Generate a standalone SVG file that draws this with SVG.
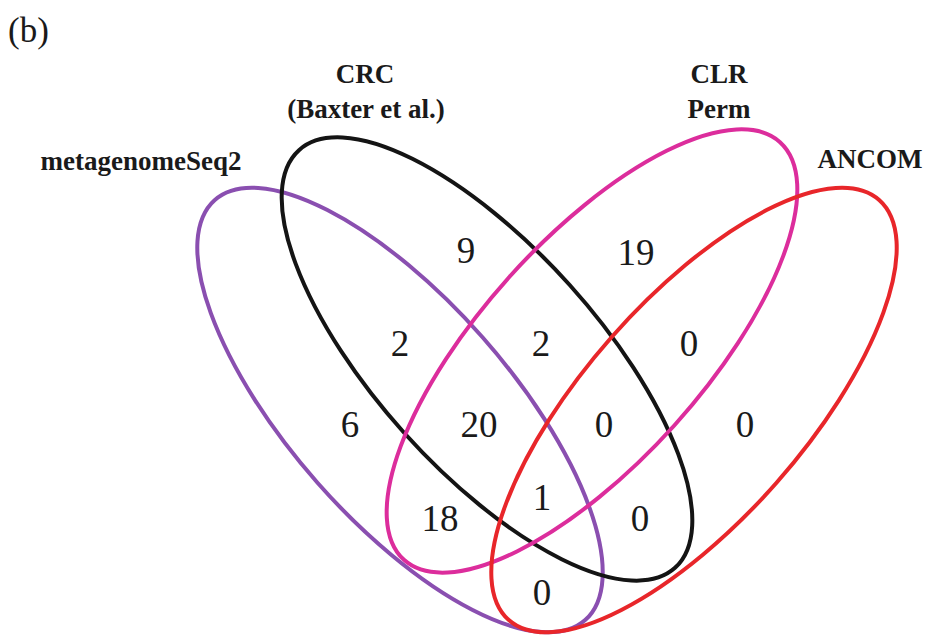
<svg xmlns="http://www.w3.org/2000/svg" width="928" height="636" viewBox="0 0 928 636">
<style>
.set{fill:none;stroke-width:4}
.lbl{font-family:'Liberation Serif','Times New Roman','DejaVu Serif',serif;font-weight:bold;font-size:27px;fill:#1a1a1a;text-anchor:middle}
.num{font-family:'Liberation Serif','Times New Roman','DejaVu Serif',serif;font-size:37px;fill:#1a1a1a;text-anchor:middle}
.tag{font-family:'Liberation Serif','Times New Roman','DejaVu Serif',serif;font-size:35px;fill:#1a1a1a}
</style>
<rect width="928" height="636" fill="#ffffff"/>
<text class="tag" x="8" y="42">(b)</text>
<g id="connectors"></g>
<g id="set-metagenomeSeq2">
<ellipse class="set" stroke="#8a4fb0" cx="400" cy="410" rx="280" ry="110" transform="rotate(48.6 400 410)"/>
<text class="lbl" x="141" y="170">metagenomeSeq2</text>
</g>
<g id="set-CRC">
<ellipse class="set" stroke="#141414" cx="487" cy="359" rx="281" ry="111" transform="rotate(48 487 359)"/>
<text class="lbl" x="365" y="83">CRC</text>
<text class="lbl" x="366" y="118">(Baxter et al.)</text>
</g>
<g id="set-CLR-Perm">
<ellipse class="set" stroke="#dc2d9c" cx="592" cy="351" rx="281" ry="111" transform="rotate(-48 592 351)"/>
<text class="lbl" x="719" y="83">CLR</text>
<text class="lbl" x="719" y="118">Perm</text>
</g>
<g id="set-ANCOM">
<ellipse class="set" stroke="#e8262a" cx="694" cy="410" rx="280" ry="110" transform="rotate(-48.6 694 410)"/>
<text class="lbl" x="870" y="168">ANCOM</text>
</g>
<g id="counts">
<text class="num" x="466" y="263">9</text>
<text class="num" x="636" y="265">19</text>
<text class="num" x="400" y="356">2</text>
<text class="num" x="541" y="356">2</text>
<text class="num" x="689" y="356">0</text>
<text class="num" x="350" y="437">6</text>
<text class="num" x="479" y="437">20</text>
<text class="num" x="604" y="437">0</text>
<text class="num" x="745" y="437">0</text>
<text class="num" x="542" y="510">1</text>
<text class="num" x="440" y="531">18</text>
<text class="num" x="640" y="531">0</text>
<text class="num" x="542" y="605">0</text>
</g>
</svg>
